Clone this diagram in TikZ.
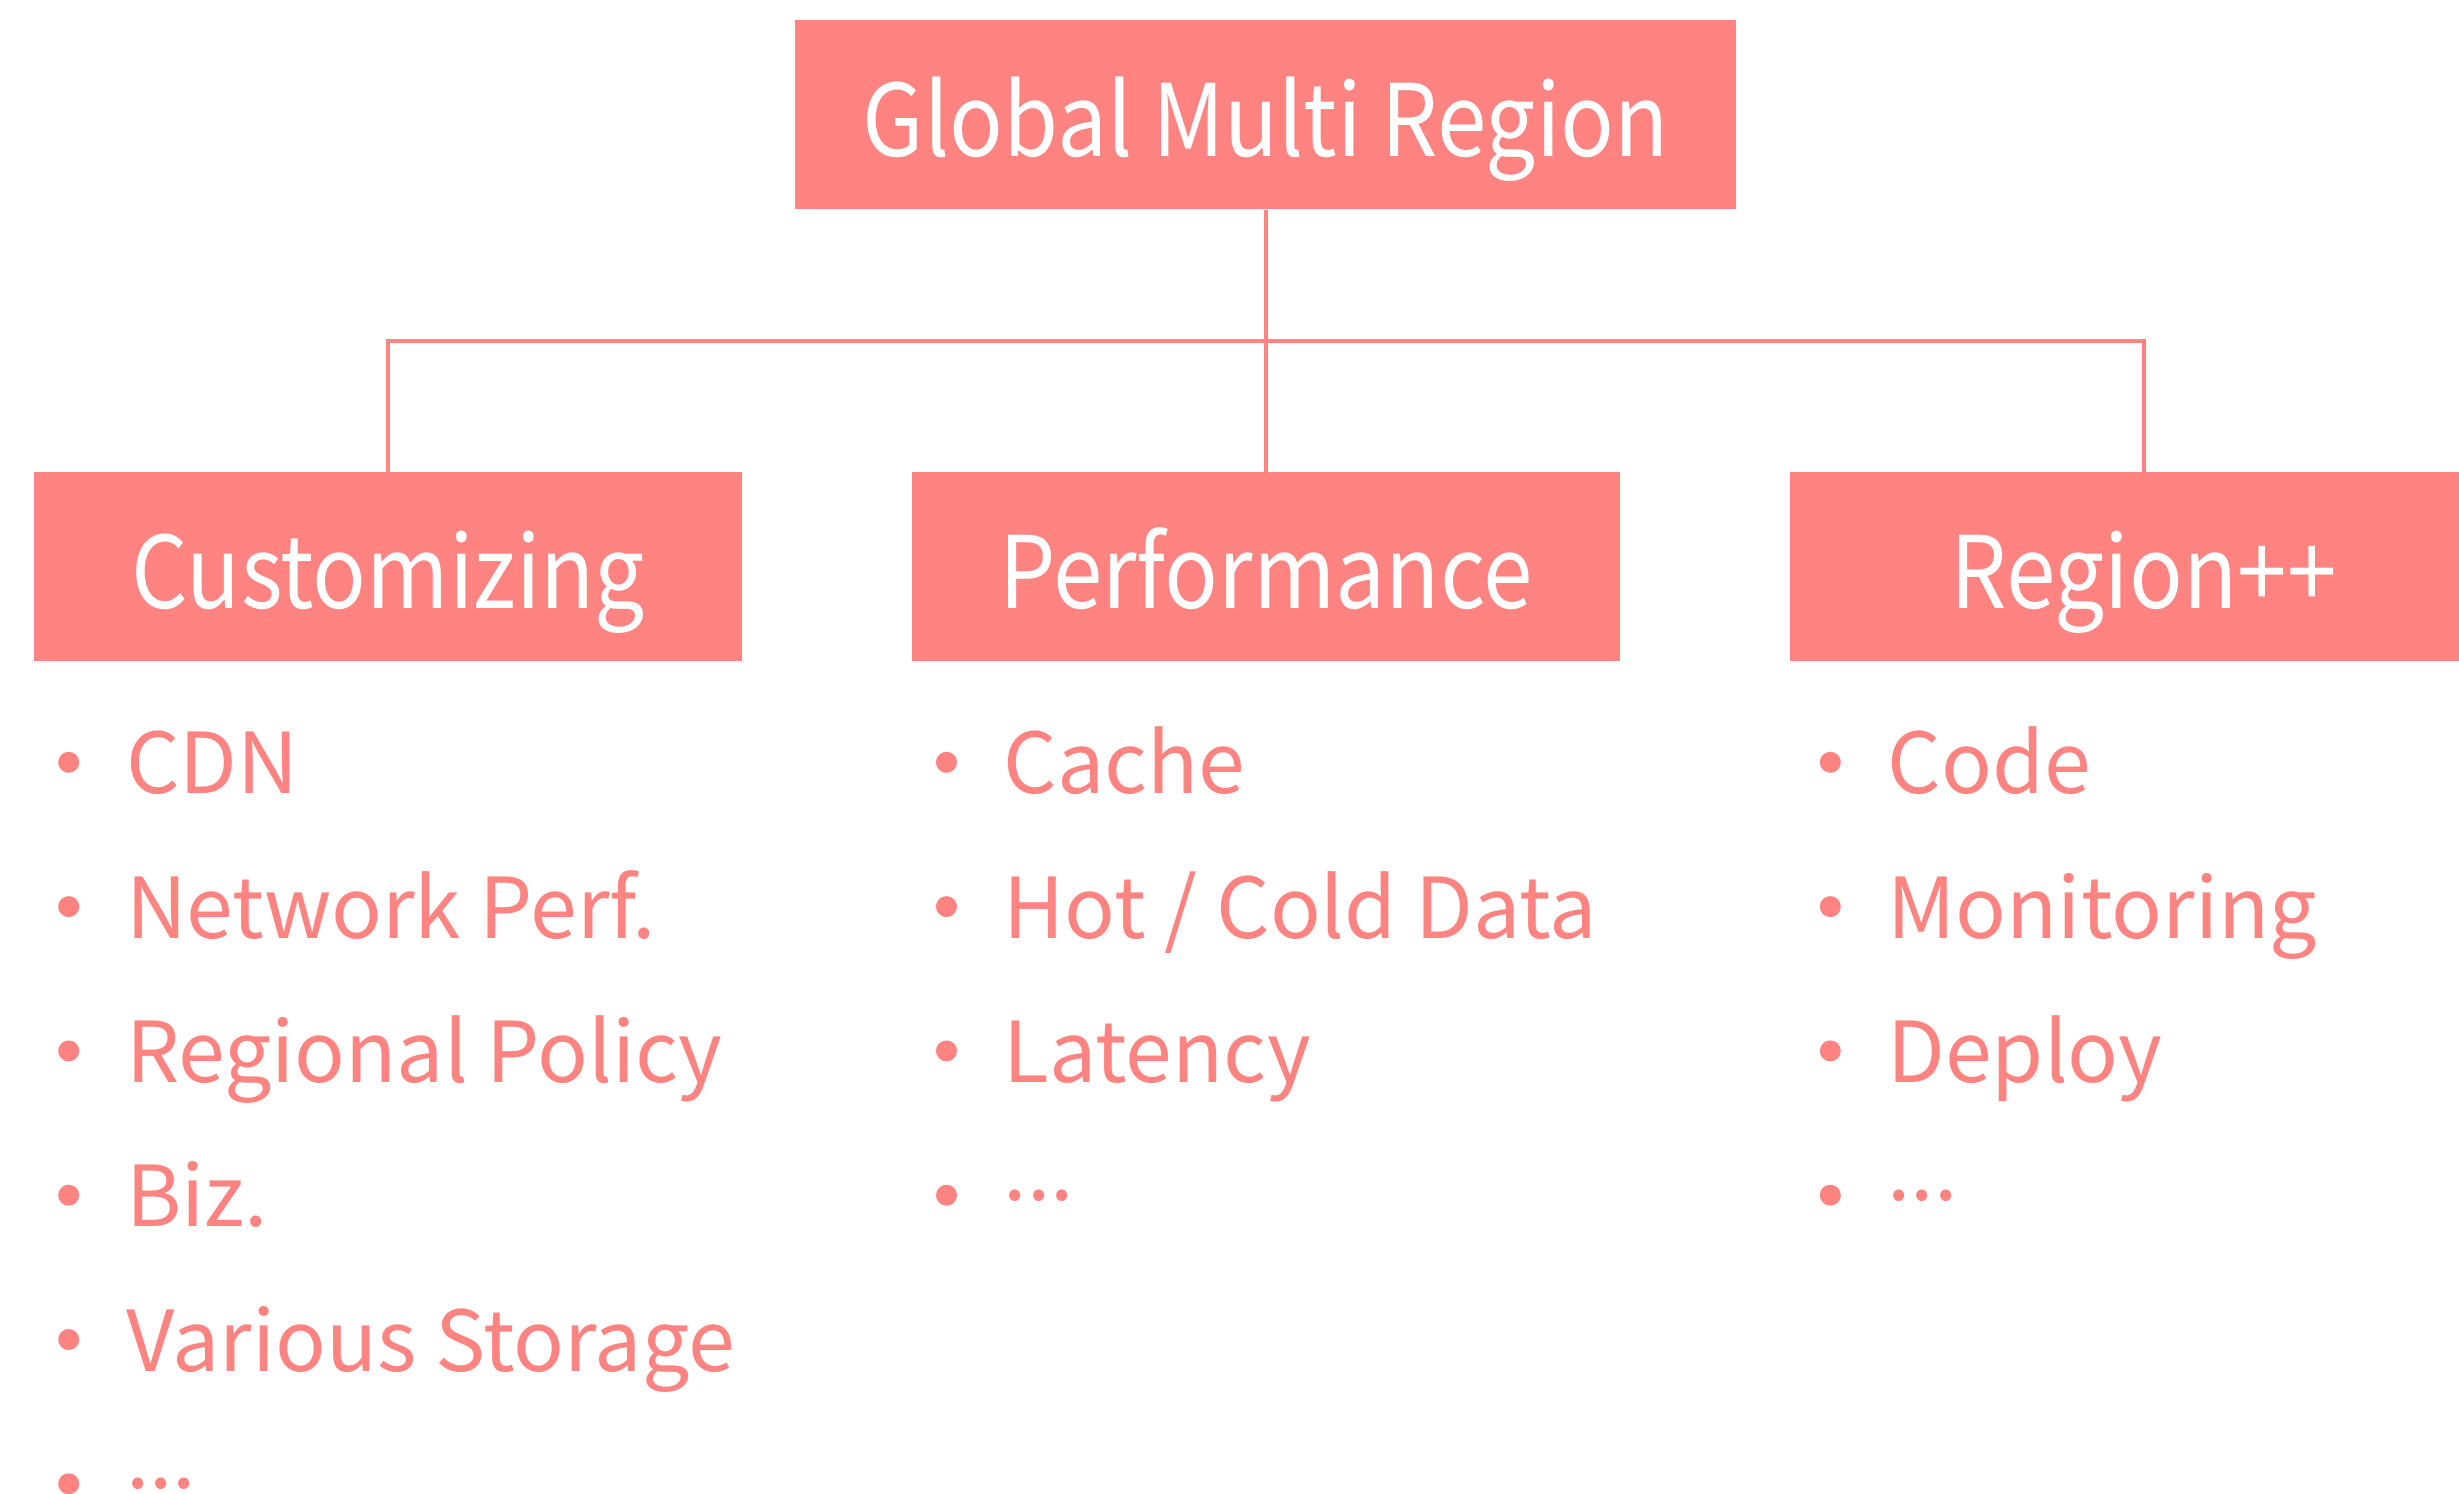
\documentclass[tikz,border=0pt]{standalone}
\usepackage{fontspec}
\usepackage{xcolor}
\usetikzlibrary{positioning, calc}
\newfontfamily\nanum{Noto Sans CJK KR}
\newfontfamily\nanumbox[FakeStretch=0.89]{Noto Sans CJK KR}
\definecolor{salmon}{HTML}{FF8380}

\begin{document}
\begin{tikzpicture}[x=0.5pt, y=-0.5pt, node distance=40.25pt]
	\tikzstyle{topic} = [rectangle, fill=salmon, text=white, minimum width=354pt, minimum height=94.5pt, inner sep=0pt, text height=41.5pt, text depth=0pt, font=\nanumbox\fontsize{50}{56}\selectfont]
	\tikzstyle{root} = [topic, minimum width=470.5pt]
	\tikzstyle{entry} = [text=salmon, inner sep=0pt, text height=31.5pt, text depth=0pt, font=\nanum\fontsize{42}{48}\selectfont, label={[circle, fill=salmon, inner sep=0pt, minimum size=10.5pt, label distance=23pt]west:{}}]
	\tikzstyle{more} = [entry, text height=5pt, yshift=-13.25pt]
	\tikzstyle{link} = [draw=salmon, line width=2pt]

	\clip (0,0) rectangle (2459,1494);

	\node (cust) [topic] at (388,566.5) {Customizing};
	\node (perf) [topic, right=84.5pt of cust] {Performance};
	\node (region) [topic, right=84.5pt of perf] {Region++};
	\node (global) [root, above=131pt of perf] {Global Multi Region};

	\coordinate (bar) at ($(global.south)!0.5!(perf.north)$);
	\draw [link] (global) -- (perf);
	\draw [link] (cust.north) |- (bar) -| (region.north);

	\node (cdn) [entry, below=34.5pt of cust.south west, anchor=north west, xshift=46pt] {CDN};
	\node (netperf) [entry, below=of cdn.south west, anchor=north west] {Network Perf.};
	\node (policy) [entry, below=of netperf.south west, anchor=north west] {Regional Policy};
	\node (biz) [entry, below=of policy.south west, anchor=north west] {Biz.};
	\node (storage) [entry, below=of biz.south west, anchor=north west] {Various Storage};
	\node (custmore) [more, below=of storage.south west, anchor=north west] {...};

	\node (cache) [entry, below=34.5pt of perf.south west, anchor=north west, xshift=46pt] {Cache};
	\node (hotcold) [entry, below=of cache.south west, anchor=north west] {Hot / Cold Data};
	\node (latency) [entry, below=of hotcold.south west, anchor=north west] {Latency};
	\node (perfmore) [more, below=of latency.south west, anchor=north west] {...};

	\node (code) [entry, below=34.5pt of region.south west, anchor=north west, xshift=49pt] {Code};
	\node (monitor) [entry, below=of code.south west, anchor=north west] {Monitoring};
	\node (deploy) [entry, below=of monitor.south west, anchor=north west] {Deploy};
	\node (regionmore) [more, below=of deploy.south west, anchor=north west] {...};
\end{tikzpicture}
\end{document}
